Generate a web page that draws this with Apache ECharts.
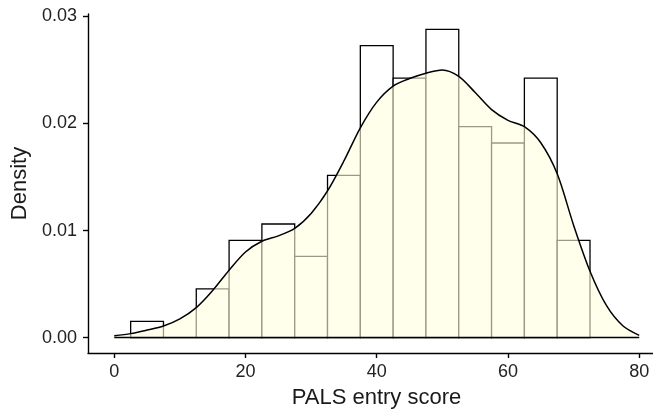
<!DOCTYPE html>
<html>
<head>
<meta charset="utf-8">
<script src="https://cdn.jsdelivr.net/npm/echarts@6/dist/echarts.min.js"></script>
<style>
    html, body { margin: 0; padding: 0; background: #fff; }
    #chart1 { width: 653px; height: 414px; }
</style>
</head>
<body>
<div id="chart1"></div>
<script>
// histogram bins (width 5) and densities
var binStart = [2.5, 7.5, 12.5, 17.5, 22.5, 27.5, 32.5, 37.5, 42.5, 47.5, 52.5, 57.5, 62.5, 67.5];
var binEnd = [7.5, 12.5, 17.5, 22.5, 27.5, 32.5, 37.5, 42.5, 47.5, 52.5, 57.5, 62.5, 67.5, 72.5];
var binDensity = [0.00152, 0, 0.00455, 0.00909, 0.01061, 0.00758, 0.01515, 0.02727, 0.02424, 0.02879, 0.01970, 0.01818, 0.02424, 0.00909];

// kernel density curve
var densX = [0, 2.5, 5, 7.5, 10, 12.5, 15, 17.5, 20, 22.5, 25, 27.5, 30, 32.5, 35, 37.5, 40, 42.5, 45, 47.5, 50, 52.5, 55, 57.5, 60, 62.5, 65, 67.5, 70, 72.5, 75, 77.5, 80];
var densY = [0.00018, 0.00037, 0.0007, 0.00108, 0.00175, 0.0028, 0.0044, 0.0063, 0.0080, 0.0090, 0.0095, 0.0102, 0.0116, 0.0137, 0.0165, 0.0196, 0.0220, 0.0235, 0.0242, 0.0247, 0.0250, 0.0244, 0.0229, 0.0213, 0.0203, 0.0197, 0.0182, 0.0153, 0.0105, 0.0062, 0.0030, 0.0011, 0.0002];

var xTicks = [0, 20, 40, 60, 80];
var yTicks = [0, 0.01, 0.02, 0.03];

var chart1 = echarts.init(document.getElementById('chart1'));

var histData = [];
for (var i = 0; i < binStart.length; i++) {
    histData.push([binStart[i], binEnd[i], binDensity[i]]);
}
var densData = [];
for (var j = 0; j < densX.length; j++) {
    densData.push([densX[j], densY[j]]);
}

var option1 = {
    animation: false,
    textStyle: { fontFamily: 'Liberation Sans, Arial, sans-serif' },
    grid: {
        left: 88,
        right: 0,
        top: 14,
        bottom: 58
    },
    xAxis: {
        type: 'value',
        min: -4,
        max: 82.1,
        name: 'PALS entry score',
        nameLocation: 'middle',
        nameGap: 34,
        nameTextStyle: { fontSize: 22, color: '#1a1a1a', padding: [0, 0, 0, 12] },
        axisLine: { onZero: false, lineStyle: { color: '#000', width: 1.4 } },
        axisTick: { customValues: xTicks, length: 5, lineStyle: { color: '#000', width: 1.4 } },
        axisLabel: { customValues: xTicks, fontSize: 18, color: '#222', margin: 10 },
        splitLine: { show: false }
    },
    yAxis: {
        type: 'value',
        min: -0.00144,
        max: 0.03023,
        name: 'Density',
        nameLocation: 'middle',
        nameGap: 57,
        nameTextStyle: { fontSize: 22, color: '#1a1a1a' },
        axisLine: { show: true, onZero: false, lineStyle: { color: '#000', width: 1.4 } },
        axisTick: { show: true, customValues: yTicks, length: 5, lineStyle: { color: '#000', width: 1.4 } },
        axisLabel: {
            customValues: yTicks, fontSize: 18, color: '#222', margin: 11,
            formatter: function (v) { return v.toFixed(2); }
        },
        splitLine: { show: false }
    },
    series: [
        {
            type: 'custom',
            data: histData,
            encode: { x: [0, 1], y: 2 },
            renderItem: function (params, api) {
                var p0 = api.coord([api.value(0), api.value(2)]);
                var p1 = api.coord([api.value(1), 0]);
                return {
                    type: 'rect',
                    shape: { x: p0[0], y: p0[1], width: p1[0] - p0[0], height: p1[1] - p0[1] },
                    style: { fill: '#fff', stroke: '#000', lineWidth: 1.3 }
                };
            },
            z: 1
        },
        {
            type: 'line',
            data: densData,
            smooth: 0.3,
            showSymbol: false,
            lineStyle: { color: '#000', width: 1.5 },
            areaStyle: { color: 'rgba(255,255,224,0.6)', opacity: 1 },
            z: 2
        },
        {
            type: 'line',
            data: [[densX[0], 0], [densX[densX.length - 1], 0]],
            showSymbol: false,
            lineStyle: { color: '#000', width: 1.5 },
            z: 3
        }
    ]
};
chart1.setOption(option1);
</script>
</body>
</html>
